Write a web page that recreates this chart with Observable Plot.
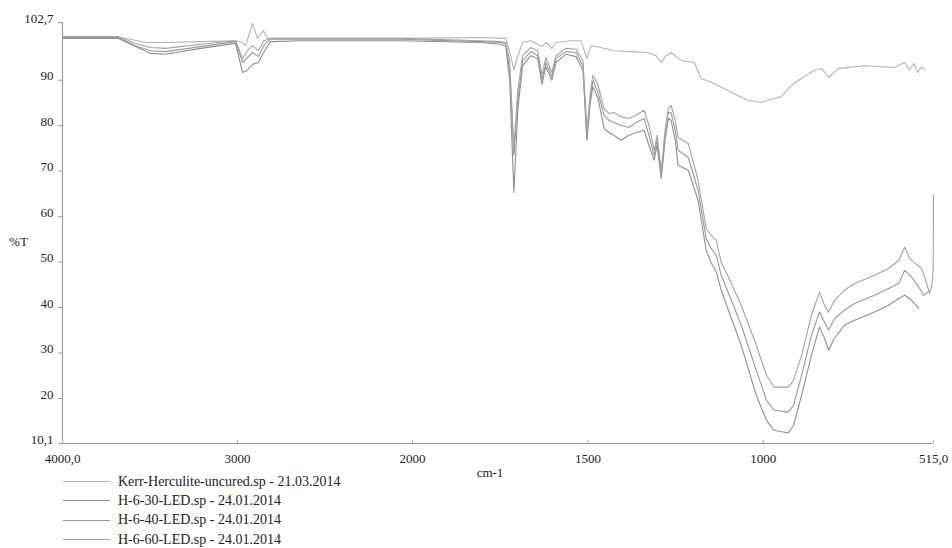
<!DOCTYPE html>
<html><head><meta charset="utf-8">
<script src="https://cdn.jsdelivr.net/npm/d3@7"></script>
<script src="https://cdn.jsdelivr.net/npm/@observablehq/plot@0.6"></script>
<style>
body{margin:0;background:#fff;font-family:"Liberation Serif","DejaVu Serif",Times,serif;}
#chart svg, #chart svg text{font-family:"Liberation Serif","DejaVu Serif",Times,serif !important;}
#legend{margin-top:-14px;padding-left:63px;font-size:14px;color:#222;font-family:"Liberation Serif","DejaVu Serif",Times,serif;}
.row{height:19.3px;display:flex;align-items:center;white-space:nowrap;}
.sw{width:47px;height:0;border-top:1.2px solid #888;margin-right:8px;}
</style></head><body><div id="chart"></div><div id="legend"></div><script>
const seriesNames = ["Kerr-Herculite-uncured.sp - 21.03.2014", "H-6-30-LED.sp - 24.01.2014", "H-6-40-LED.sp - 24.01.2014", "H-6-60-LED.sp - 24.01.2014"];
const seriesColors = ["#b4b4b4", "#8e8e8e", "#999999", "#a3a3a3"];

const xTicks = [4000, 3000, 2000, 1500, 1000, 515];
const xTickLabels = ["4000,0", "3000", "2000", "1500", "1000", "515,0"];
const yTicks = [10.1, 20, 30, 40, 50, 60, 70, 80, 90, 102.7];
const yTickLabels = ["10,1", "20", "30", "40", "50", "60", "70", "80", "90", "102,7"];

const wnKerr = [4000,3680,3611,3526,3440,3211,3011,2971,2954,2914,2886,2851,2829,2783,2640,2354,2069,1806,1734,1720,1711,1700,1686,1663,1631,1620,1603,1591,1549,1520,1503,1491,1463,1426,1377,1329,1306,1291,1277,1263,1234,1197,1177,1140,1091,1043,1006,969,949,914,877,854,834,814,786,711,626,597,583,571,560,549,540];
const tKerr = [99.4,99.4,99.0,98.3,98.3,98.5,98.7,98.3,97.6,102.5,99.2,100.9,99.2,99.2,99.2,99.2,99.2,99.4,99.2,95.4,92.2,95.4,98.3,98.7,97.4,98.3,97.0,98.3,98.7,98.7,94.8,97.6,97.2,96.5,96.3,96.1,95.4,93.9,95.4,96.1,94.3,93.9,90.4,89.3,87.3,85.6,85.1,86.0,86.4,89.3,91.1,92.2,92.6,90.6,92.6,93.2,92.8,93.9,92.2,93.7,91.7,93.0,92.2];

const wn30 = [4000,3680,3583,3497,3411,3211,3011,2971,2943,2914,2880,2851,2811,2640,2069,1806,1749,1734,1723,1711,1700,1686,1663,1643,1631,1620,1603,1591,1563,1534,1514,1503,1494,1486,1471,1454,1440,1426,1406,1383,1363,1340,1326,1311,1303,1291,1280,1271,1263,1251,1243,1214,1186,1163,1149,1134,1120,1091,1063,1020,991,969,929,914,891,863,840,826,814,797,769,740,683,643,614,597,577,557];
const t30 = [99.2,99.2,97.4,95.9,95.7,97.0,98.1,91.7,92.2,93.5,93.9,96.1,98.5,98.7,98.7,98.3,97.9,97.4,90.0,65.3,83.4,93.2,95.4,94.8,89.1,93.0,90.0,93.9,95.7,95.2,92.2,76.8,84.5,88.6,86.0,79.4,78.5,77.9,76.8,77.9,78.5,79.0,75.7,72.4,75.7,68.4,76.8,81.6,81.2,76.8,71.3,70.2,63.6,52.6,49.9,47.8,43.8,37.6,31.7,20.7,15.2,13.0,12.4,14.1,20.7,29.5,35.7,33.3,30.6,33.3,36.1,37.2,39.0,40.5,42.0,42.7,41.6,39.8];

const wn40 = [4000,3680,3583,3497,3411,3211,3011,2971,2943,2914,2880,2851,2811,2640,2069,1806,1749,1734,1723,1711,1700,1686,1663,1643,1631,1620,1603,1591,1563,1534,1514,1503,1494,1486,1471,1454,1440,1426,1406,1383,1363,1340,1326,1311,1303,1291,1280,1271,1263,1251,1243,1214,1186,1163,1149,1134,1120,1091,1063,1020,991,969,929,914,891,863,840,826,814,797,769,740,683,643,614,597,577,557,543,530];
const t40 = [99.4,99.4,97.6,96.5,96.3,97.4,98.5,93.9,95.0,96.1,95.2,97.6,99.0,99.0,99.0,98.5,98.3,97.9,92.2,73.5,85.6,94.3,96.3,95.4,90.0,93.9,90.8,94.8,96.3,96.1,93.2,77.2,85.6,90.0,87.3,82.3,81.2,80.7,80.1,79.6,80.7,81.6,77.9,73.5,76.8,69.1,77.9,82.9,82.9,79.0,74.6,73.0,65.8,55.2,53.0,51.5,47.1,41.6,36.1,26.2,19.6,17.4,17.0,18.5,25.1,33.9,39.0,36.8,35.0,37.6,39.4,40.9,42.7,44.2,45.3,48.2,46.7,44.5,42.7,43.5];

const wn60 = [4000,3680,3583,3497,3411,3211,3011,2971,2943,2914,2880,2851,2811,2640,2069,1806,1749,1734,1723,1711,1700,1686,1663,1643,1631,1620,1603,1591,1563,1534,1514,1503,1494,1486,1471,1454,1440,1426,1406,1383,1363,1340,1326,1311,1303,1291,1280,1271,1263,1251,1243,1214,1186,1163,1149,1134,1120,1091,1063,1020,991,969,929,914,891,863,840,826,814,797,769,740,683,643,614,597,583,569,549,540,526,520,516,515];
const t60 = [99.6,99.6,98.1,97.2,97.0,97.9,98.7,94.8,96.5,97.6,96.5,98.7,99.2,99.2,99.2,98.7,98.5,98.3,94.3,75.0,87.8,95.4,97.2,96.5,91.1,95.0,91.7,95.4,97.0,96.8,94.3,79.0,86.7,91.1,88.9,83.8,82.7,82.9,82.0,81.6,82.3,83.4,80.1,74.6,77.9,70.2,79.0,83.8,84.5,81.2,77.4,76.1,68.0,57.4,55.9,54.8,49.9,45.3,40.5,31.7,25.1,22.5,22.5,24.0,29.5,38.3,43.4,40.5,39.0,41.6,43.8,45.3,47.1,48.6,50.4,53.3,50.8,49.9,48.6,46.7,43.1,44.9,48.2,64.7];

const spectra = [[wnKerr, tKerr], [wn30, t30], [wn40, t40], [wn60, t60]];
const rows = spectra.flatMap(([w, t], i) => w.map((x, j) => ({series: seriesNames[i], wn: x, t: t[j]})));

const xLab = new Map(xTicks.map((d, i) => [d, xTickLabels[i]]));
const yLab = new Map(yTicks.map((d, i) => [d, yTickLabels[i]]));

const chart = Plot.plot({
  width: 952, height: 486,
  marginLeft: 62, marginRight: 19, marginTop: 22, marginBottom: 43,
  style: {fontSize: "13px", color: "#222", background: "#fff", overflow: "visible"},
  x: {type: "linear", domain: [4000, 2000, 515], range: [62, 412, 933]},
  y: {domain: [10.1, 102.7]},
  color: {domain: seriesNames, range: seriesColors},
  marks: [
    Plot.ruleX([4000], {stroke: "#9a9a9a", strokeWidth: 1.2}),
    Plot.ruleY([10.1], {stroke: "#9a9a9a", strokeWidth: 1.2}),
    Plot.ruleX(xTicks, {y1: 10.1, y2: 10.8, stroke: "#aaa"}),
    Plot.axisX({ticks: xTicks, tickFormat: d => xLab.get(d), tickSize: 0, tickPadding: 10, label: null}),
    Plot.axisY({ticks: yTicks, tickFormat: () => "", tickSize: 4, label: null, stroke: "#999"}),
    Plot.axisY({ticks: yTicks, tickFormat: d => yLab.get(d), tickSize: 0, tickPadding: 9, dy: -4, label: null}),
    Plot.line(rows, {x: "wn", y: "t", z: "series", stroke: "series", strokeWidth: 1.1}),
    Plot.text(["%T"], {frameAnchor: "left", dx: -44, dy: 9, fontSize: 13, textAnchor: "middle"}),
    Plot.text(["cm-1"], {frameAnchor: "bottom", dx: -8, dy: 33, fontSize: 13})
  ]
});
document.getElementById("chart").append(chart);

const legend = document.getElementById("legend");
seriesNames.forEach((name, i) => {
  const row = document.createElement("div");
  row.className = "row";
  const sw = document.createElement("span");
  sw.className = "sw";
  sw.style.borderTopColor = seriesColors[i];
  const tx = document.createElement("span");
  tx.textContent = name;
  row.append(sw, tx);
  legend.append(row);
});
</script></body></html>
